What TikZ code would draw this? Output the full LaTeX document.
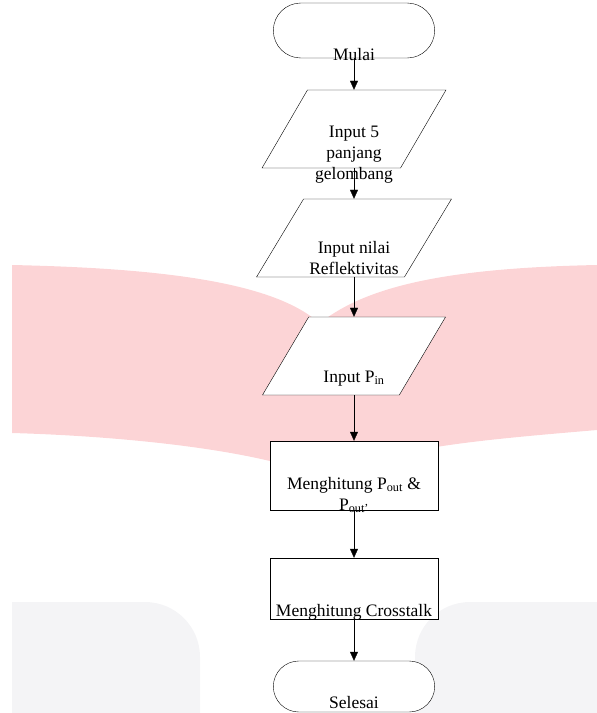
\documentclass[tikz,border=0pt]{standalone}
\usepackage{fontspec}
\setmainfont{Liberation Serif}
\usetikzlibrary{shapes.geometric,shapes.misc,arrows.meta}
\definecolor{bookpink}{RGB}{252,212,214}
\definecolor{logogray}{RGB}{244,244,246}
\tikzset{line width=1pt}

\begin{document}
\begin{tikzpicture}[x=1pt,y=-1pt,
    font=\fontsize{17.5}{21}\selectfont,
    lbl/.style={inner sep=0pt,align=center,anchor=base},
    terminal/.style={rounded rectangle,draw,fill=white,minimum width=168pt},
    io/.style={trapezium,trapezium stretches=true,draw,fill=white,minimum height=78pt},
    process/.style={rectangle,draw,fill=white,minimum width=168pt},
    flow/.style={-{Triangle[width=8pt,length=9pt]}}]
    \useasboundingbox (0,0) rectangle (597,713);
    % faded logo behind the chart
    \fill[bookpink] (12,265) .. controls (150,268) and (270,280) .. (318,322)
        -- (332,482) .. controls (270,450) and (120,436) .. (12,433) -- cycle;
    \fill[bookpink] (312,330) .. controls (360,285) and (450,268) .. (597,265)
        -- (597,430) .. controls (480,440) and (380,448) .. (325,480) -- cycle;
    \fill[logogray] (12,713) -- (12,602) -- (145,602)
        arc[start angle=-90,end angle=0,radius=55] -- (200,713) -- cycle;
    \fill[logogray] (597,713) -- (597,602) -- (470,602)
        arc[start angle=-90,end angle=-180,radius=55] -- (415,713) -- cycle;

    \node[terminal,minimum height=55pt,label={[lbl,yshift=-2pt]south:Mulai}] (mulai) at (354,30.5) {};
    \node[io,minimum width=184pt,trapezium left angle=64,trapezium right angle=116,
        label={[lbl,yshift=-11pt]south:{Input 5\\panjang\\gelombang}}] (lambda) at (354,129) {};
    \node[io,minimum width=195pt,trapezium left angle=65,trapezium right angle=115,
        label={[lbl,yshift=3pt]south:{Input nilai\\Reflektivitas}}] (refl) at (354,238) {};
    \node[io,minimum width=183pt,trapezium left angle=63,trapezium right angle=117,
        label={[lbl,yshift=13pt]south:{Input P\textsubscript{in}}}] (pin) at (354,356) {};
    \node[process,minimum height=69pt,
        label={[lbl,yshift=0pt]south:{Menghitung P\textsubscript{out} \&\\P\textsubscript{out'}}}] (pout) at (354,475.5) {};
    \node[process,minimum height=61pt,
        label={[lbl,yshift=3pt]south:Menghitung Crosstalk}] (xtalk) at (354,588.5) {};
    \node[terminal,minimum height=51pt,label={[lbl,yshift=4pt]south:Selesai}] (selesai) at (354,686.5) {};

    \draw[flow] (mulai) -- (lambda);
    \draw[flow] (lambda) -- (refl);
    \draw[flow] (refl) -- (pin);
    \draw[flow] (pin) -- (pout);
    \draw[flow] (pout) -- (xtalk);
    \draw[flow] (xtalk) -- (selesai);
\end{tikzpicture}
\end{document}
